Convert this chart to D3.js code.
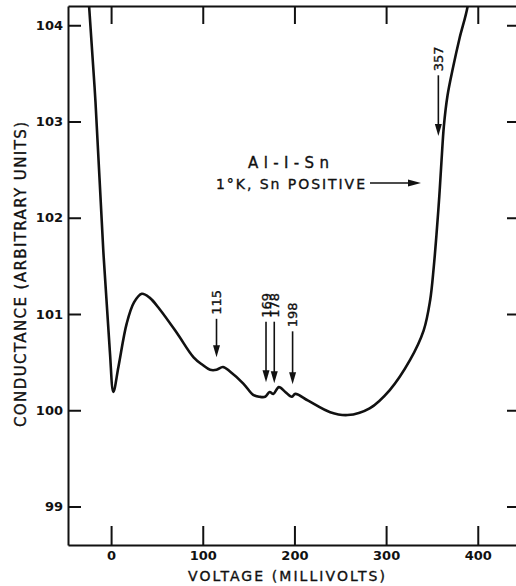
<!DOCTYPE html>
<html>
<head>
<meta charset="utf-8">
<script src="https://cdn.jsdelivr.net/npm/d3@7"></script>
<style>
  body { margin: 0; background: #fff; }
  svg { display: block; font-family: "DejaVu Sans", sans-serif; }
  .axis path, .axis line { stroke: #111; stroke-width: 2; }
  .axis text { font-size: 13px; font-weight: bold; fill: #111; font-family: "DejaVu Sans", sans-serif; }
  .lettering { fill: #111; stroke: #111; stroke-width: 0.35; }
</style>
</head>
<body>
<svg width="516" height="586"></svg>
<script>
// Measured curve: voltage (mV) vs conductance (arbitrary units)
const voltage = [-26, -24, -17, -8.5, -1.4, 2.5, 8, 17, 25, 33.5, 42, 53, 72, 90, 100, 108, 115, 122, 130, 144,
    155, 162, 168, 173, 177, 183, 190, 197, 201, 215, 239, 258, 282, 304, 326, 341, 348, 352, 355, 358,
    360.5, 363, 367, 373, 380, 389, 392];
const conductance = [104.5, 104.2, 103.2, 101.66, 100.62, 100.19, 100.45, 100.9, 101.12, 101.21, 101.17, 101.05,
    100.80, 100.55, 100.47, 100.42, 100.42, 100.45, 100.40, 100.28,
    100.16, 100.14, 100.14, 100.19, 100.17, 100.24, 100.19, 100.14, 100.17, 100.10, 99.98, 99.95, 100.02,
    100.21, 100.52, 100.83, 101.14, 101.49, 101.83, 102.22,
    102.6, 102.95, 103.27, 103.56, 103.86, 104.2, 104.5];

// Arrow annotations
const markLabels = ["115", "169", "178", "198", "357"];
const markVoltage = [115, 169, 178, 198, 357];
const markTip = [100.55, 100.29, 100.28, 100.27, 102.85];
const markTail = [100.95, 100.92, 100.92, 100.82, 103.48];

// Axis ticks
const xTicks = [0, 100, 200, 300, 400];
const yTicks = [99, 100, 101, 102, 103, 104];

const svg = d3.select("svg");
const frame = { left: 68, right: 516, top: 6, bottom: 545 };

const x = d3.scaleLinear().domain([-47, 441.7]).range([frame.left, frame.right]);
const y = d3.scaleLinear().domain([98.6, 104.2]).range([frame.bottom, frame.top]);

// Axes (ticks point inward)
svg.append("g").attr("class", "axis")
    .attr("transform", `translate(${frame.left},0)`)
    .call(d3.axisLeft(y).tickValues(yTicks).tickSizeInner(-13).tickSizeOuter(0).tickPadding(5).tickFormat(d3.format("d")));
svg.append("g").attr("class", "axis")
    .attr("transform", `translate(0,${frame.bottom})`)
    .call(d3.axisBottom(x).tickValues(xTicks).tickSizeInner(-19).tickSizeOuter(0).tickPadding(6).tickFormat(d3.format("d")));
svg.append("g").attr("class", "axis")
    .attr("transform", `translate(0,${frame.top})`)
    .call(d3.axisTop(x).tickValues(xTicks).tickSizeInner(-18).tickSizeOuter(0).tickFormat(""));
svg.append("g").attr("class", "axis")
    .attr("transform", `translate(${frame.right},0)`)
    .call(d3.axisRight(y).tickValues(yTicks).tickSizeInner(-9).tickSizeOuter(0).tickFormat(""))
    .select(".domain").remove();

// Curve, clipped to the frame
svg.append("clipPath").attr("id", "frame")
  .append("rect").attr("x", frame.left).attr("y", frame.top)
    .attr("width", frame.right - frame.left).attr("height", frame.bottom - frame.top);

const line = d3.line()
    .x((d, i) => x(voltage[i]))
    .y((d, i) => y(conductance[i]))
    .curve(d3.curveCatmullRom.alpha(0.5));

svg.append("path")
    .datum(voltage)
    .attr("clip-path", "url(#frame)")
    .attr("d", line)
    .attr("fill", "none")
    .attr("stroke", "#111")
    .attr("stroke-width", 2.6)
    .attr("stroke-linejoin", "round");

// Arrows with rotated labels
const marks = svg.append("g");
markLabels.forEach((lab, i) => {
    const mx = x(markVoltage[i]);
    const tipY = y(markTip[i]);
    const tailY = y(markTail[i]);
    marks.append("line")
        .attr("x1", mx).attr("x2", mx)
        .attr("y1", tailY).attr("y2", tipY - 8)
        .attr("stroke", "#111").attr("stroke-width", 1.6);
    marks.append("path")
        .attr("d", `M${mx - 3.5},${tipY - 12} L${mx + 3.5},${tipY - 12} L${mx},${tipY} Z`)
        .attr("fill", "#111");
    marks.append("text")
        .attr("class", "lettering")
        .attr("transform", `translate(${mx + 4.5},${tailY - 4}) rotate(-90)`)
        .attr("font-size", 13)
        .text(lab);
});

// Sample description
svg.append("text")
    .attr("class", "lettering")
    .attr("x", 248).attr("y", 168)
    .attr("font-size", 15)
    .attr("textLength", 81).attr("lengthAdjust", "spacing")
    .text("Al-I-Sn");
svg.append("text")
    .attr("class", "lettering")
    .attr("x", 216).attr("y", 189)
    .attr("font-size", 14)
    .attr("textLength", 149).attr("lengthAdjust", "spacing")
    .text("1°K, Sn POSITIVE");
svg.append("line")
    .attr("x1", 370).attr("x2", 410).attr("y1", 183).attr("y2", 183)
    .attr("stroke", "#111").attr("stroke-width", 1.6);
svg.append("path")
    .attr("d", "M408,179.5 L421,183 L408,186.5 Z")
    .attr("fill", "#111");

// Axis titles
svg.append("text")
    .attr("class", "lettering")
    .attr("x", 188).attr("y", 581)
    .attr("font-size", 14)
    .attr("textLength", 197).attr("lengthAdjust", "spacing")
    .text("VOLTAGE (MILLIVOLTS)");
svg.append("text")
    .attr("class", "lettering")
    .attr("transform", "translate(26,427) rotate(-90)")
    .attr("font-size", 15)
    .attr("textLength", 305).attr("lengthAdjust", "spacing")
    .text("CONDUCTANCE (ARBITRARY UNITS)");
</script>
</body>
</html>
